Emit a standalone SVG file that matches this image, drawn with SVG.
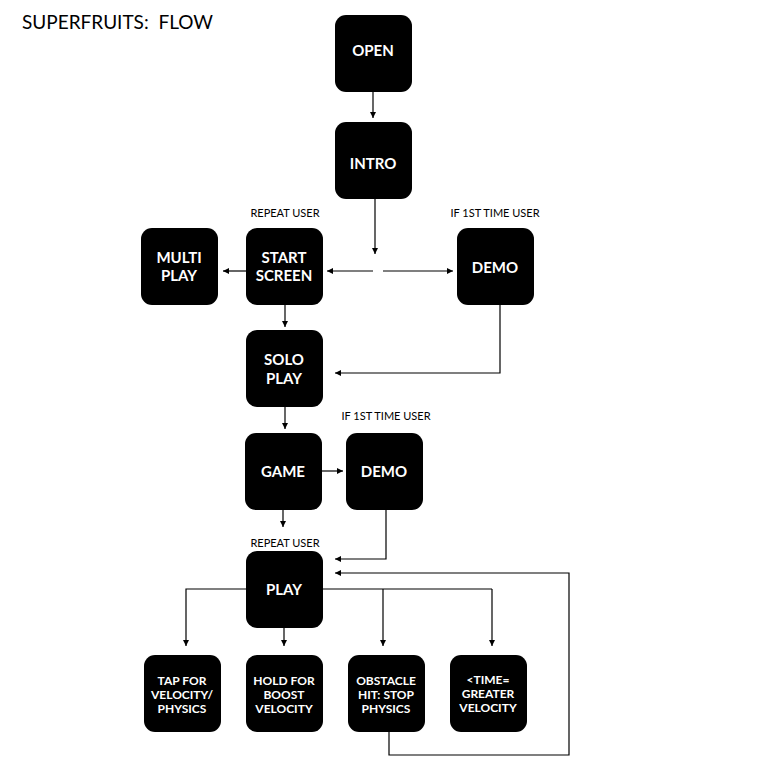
<svg xmlns="http://www.w3.org/2000/svg" width="772" height="772" viewBox="0 0 772 772">
<defs>
<marker id="ah" viewBox="0 0 6 6" refX="6" refY="3" markerWidth="6" markerHeight="6" markerUnits="userSpaceOnUse" orient="auto">
<path d="M0,0 L6,3 L0,6 z" fill="#000"/>
</marker>
<style>
.box{fill:#000}
.nt{fill:#fff;font-family:Lato,"Liberation Sans",sans-serif;font-weight:bold;font-size:15px;text-anchor:middle}
.st{fill:#fff;font-family:Lato,"Liberation Sans",sans-serif;font-weight:bold;font-size:12px;text-anchor:middle}
.lb{fill:#000;font-family:Lato,"Liberation Sans",sans-serif;font-size:11px;text-anchor:middle}
.ln{fill:none;stroke:#000;stroke-width:1.2}
.ar{marker-end:url(#ah)}
</style>
</defs>
<rect width="772" height="772" fill="#fff"/>
<text x="22" y="29" xml:space="preserve" style="font-family:Lato,'Liberation Sans',sans-serif;font-size:19px;fill:#000">SUPERFRUITS:  FLOW</text>

<g id="connectors">
<path class="ln ar" d="M373,91 V118"/>
<path class="ln ar" d="M375,198 V254"/>
<path class="ln ar" d="M373,271 H327"/>
<path class="ln ar" d="M383,271 H453"/>
<path class="ln ar" d="M246,271 H223"/>
<path class="ln ar" d="M285,304 V327"/>
<path class="ln ar" d="M500,304 V373 H335"/>
<path class="ln ar" d="M285,406 V429"/>
<path class="ln ar" d="M321,471 H343"/>
<path class="ln ar" d="M283,509 V527"/>
<path class="ln ar" d="M386,509 V559 H335"/>
<path class="ln ar" d="M389,731 V755 H569 V573 H335"/>
<path class="ln ar" d="M246,589 H186 V646"/>
<path class="ln ar" d="M284,627 V646"/>
<path class="ln" d="M323,589 H492"/>
<path class="ln ar" d="M383,589 V646"/>
<path class="ln ar" d="M492,589 V646"/>
</g>

<text class="lb" x="285" y="217">REPEAT USER</text>
<text class="lb" x="495" y="217">IF 1ST TIME USER</text>
<text class="lb" x="386" y="420">IF 1ST TIME USER</text>
<text class="lb" x="285" y="547">REPEAT USER</text>

<g id="open"><rect class="box" x="335" y="15" width="77" height="77" rx="11"/><text class="nt" x="373" y="56">OPEN</text></g>
<g id="intro"><rect class="box" x="335" y="122" width="77" height="77" rx="11"/><text class="nt" x="373" y="169">INTRO</text></g>
<g id="multi"><rect class="box" x="141" y="228" width="77" height="77" rx="11"/><text class="nt" x="179" y="263">MULTI</text><text class="nt" x="179" y="281">PLAY</text></g>
<g id="start"><rect class="box" x="246" y="228" width="77" height="77" rx="11"/><text class="nt" x="284" y="263">START</text><text class="nt" x="284" y="281">SCREEN</text></g>
<g id="demo1"><rect class="box" x="457" y="228" width="77" height="77" rx="11"/><text class="nt" x="495" y="273">DEMO</text></g>
<g id="solo"><rect class="box" x="246" y="330" width="77" height="77" rx="11"/><text class="nt" x="284" y="365">SOLO</text><text class="nt" x="284" y="384">PLAY</text></g>
<g id="game"><rect class="box" x="245" y="433" width="77" height="77" rx="11"/><text class="nt" x="283" y="477">GAME</text></g>
<g id="demo2"><rect class="box" x="346" y="433" width="77" height="77" rx="11"/><text class="nt" x="384" y="477">DEMO</text></g>
<g id="play"><rect class="box" x="246" y="551" width="77" height="77" rx="11"/><text class="nt" x="284" y="595">PLAY</text></g>
<g id="tap"><rect class="box" x="144" y="655" width="77" height="77" rx="11"/><text class="st" x="182" y="685">TAP FOR</text><text class="st" x="182" y="699">VELOCITY/</text><text class="st" x="182" y="713">PHYSICS</text></g>
<g id="hold"><rect class="box" x="246" y="655" width="77" height="77" rx="11"/><text class="st" x="284" y="685">HOLD FOR</text><text class="st" x="284" y="699">BOOST</text><text class="st" x="284" y="713">VELOCITY</text></g>
<g id="obstacle"><rect class="box" x="348" y="655" width="77" height="77" rx="11"/><text class="st" x="386" y="685">OBSTACLE</text><text class="st" x="386" y="699">HIT: STOP</text><text class="st" x="386" y="713">PHYSICS</text></g>
<g id="time"><rect class="box" x="450" y="655" width="77" height="77" rx="11"/><text class="st" x="488" y="684">&lt;TIME=</text><text class="st" x="488" y="698">GREATER</text><text class="st" x="488" y="712">VELOCITY</text></g>
</svg>
